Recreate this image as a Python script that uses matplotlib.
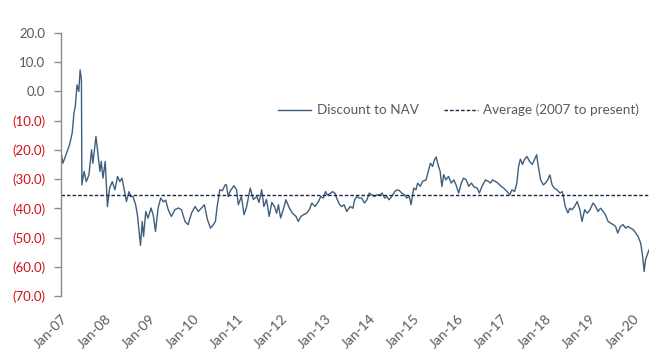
import matplotlib
matplotlib.use("Agg")
import matplotlib.pyplot as plt
from matplotlib.ticker import FixedLocator, FuncFormatter

# decimal years and discount to NAV (%)
years = [
    2007.00, 2007.05, 2007.13, 2007.20, 2007.26, 2007.30, 2007.33, 2007.37, 2007.41, 2007.44,
    2007.47, 2007.48, 2007.53, 2007.58, 2007.64, 2007.70, 2007.73, 2007.80, 2007.83, 2007.89,
    2007.92, 2007.96, 2008.01, 2008.06, 2008.11, 2008.17, 2008.23, 2008.29, 2008.34, 2008.39,
    2008.45, 2008.49, 2008.55, 2008.59, 2008.64, 2008.70, 2008.74, 2008.77, 2008.81, 2008.85,
    2008.88, 2008.93, 2008.98, 2009.05, 2009.10, 2009.15, 2009.21, 2009.27, 2009.33, 2009.38,
    2009.44, 2009.51, 2009.59, 2009.67, 2009.74, 2009.82, 2009.89, 2009.97, 2010.05, 2010.12,
    2010.19, 2010.26, 2010.33, 2010.40, 2010.46, 2010.51, 2010.55, 2010.61, 2010.67, 2010.73,
    2010.76, 2010.80, 2010.85, 2010.93, 2010.99, 2011.03, 2011.10, 2011.16, 2011.22, 2011.30,
    2011.37, 2011.45, 2011.50, 2011.56, 2011.61, 2011.67, 2011.73, 2011.79, 2011.85, 2011.90,
    2011.94, 2011.99, 2012.05, 2012.11, 2012.19, 2012.26, 2012.34, 2012.39, 2012.45, 2012.51,
    2012.58, 2012.64, 2012.70, 2012.77, 2012.85, 2012.90, 2012.96, 2013.01, 2013.05, 2013.11,
    2013.17, 2013.23, 2013.26, 2013.33, 2013.38, 2013.43, 2013.49, 2013.57, 2013.63, 2013.67,
    2013.72, 2013.77, 2013.83, 2013.89, 2013.95, 2014.00, 2014.06, 2014.12, 2014.18, 2014.25,
    2014.29, 2014.35, 2014.40, 2014.45, 2014.51, 2014.58, 2014.63, 2014.68, 2014.74, 2014.80,
    2014.85, 2014.91, 2014.95, 2015.01, 2015.06, 2015.10, 2015.16, 2015.21, 2015.29, 2015.33,
    2015.39, 2015.44, 2015.48, 2015.52, 2015.56, 2015.61, 2015.65, 2015.69, 2015.74, 2015.80,
    2015.86, 2015.92, 2015.97, 2016.03, 2016.09, 2016.14, 2016.20, 2016.26, 2016.32, 2016.38,
    2016.45, 2016.50, 2016.56, 2016.64, 2016.70, 2016.75, 2016.80, 2016.86, 2016.92, 2016.98,
    2017.05, 2017.13, 2017.19, 2017.24, 2017.30, 2017.35, 2017.39, 2017.43, 2017.48, 2017.52,
    2017.58, 2017.64, 2017.70, 2017.75, 2017.80, 2017.83, 2017.89, 2017.95, 2018.00, 2018.05,
    2018.10, 2018.15, 2018.20, 2018.26, 2018.33, 2018.38, 2018.42, 2018.45, 2018.51, 2018.55,
    2018.60, 2018.66, 2018.72, 2018.78, 2018.83, 2018.89, 2018.95, 2019.01, 2019.08, 2019.14,
    2019.19, 2019.25, 2019.31, 2019.36, 2019.42, 2019.48, 2019.54, 2019.59, 2019.64, 2019.70,
    2019.76, 2019.82, 2019.87, 2019.93, 2019.99, 2020.05, 2020.10, 2020.16, 2020.20, 2020.24,
    2020.27, 2020.31, 2020.35,
]
discount = [
    -20.0, -24.6, -21.2, -18.3, -14.3, -7.5, -5.3, 2.2, -0.1, 7.3,
    3.9, -32.0, -27.4, -30.9, -28.6, -20.0, -24.6, -15.5, -19.5, -27.4,
    -24.0, -29.7, -24.0, -39.4, -33.1, -30.9, -33.7, -29.1, -30.9, -29.7,
    -34.3, -37.7, -34.3, -36.0, -36.0, -38.8, -42.2, -46.8, -52.7, -44.5,
    -49.6, -41.1, -43.4, -39.9, -42.4, -47.9, -39.9, -36.5, -37.8, -37.2,
    -40.5, -42.8, -40.5, -39.9, -40.5, -44.5, -45.6, -41.6, -39.4, -41.1,
    -40.0, -38.8, -43.9, -46.8, -45.7, -44.5, -39.4, -33.7, -34.0, -32.0,
    -32.0, -36.0, -34.0, -32.3, -33.7, -38.8, -36.0, -42.2, -39.4, -33.1,
    -37.0, -36.0, -38.0, -33.7, -39.4, -37.0, -42.8, -38.0, -39.4, -41.7,
    -38.8, -43.3, -40.5, -37.1, -40.0, -41.7, -42.8, -44.5, -42.8, -42.2,
    -41.7, -40.5, -38.2, -39.4, -37.7, -36.0, -36.5, -34.3, -35.5, -35.0,
    -34.3, -35.0, -36.5, -38.8, -39.4, -38.8, -41.1, -39.4, -40.0, -37.1,
    -36.0, -36.5, -36.5, -38.2, -37.1, -34.8, -35.4, -36.0, -35.4, -35.4,
    -34.8, -36.5, -36.0, -37.1, -36.0, -34.3, -33.7, -33.9, -34.8, -35.4,
    -36.5, -36.0, -38.8, -33.1, -33.7, -31.4, -32.5, -30.8, -30.3, -28.0,
    -24.6, -25.7, -23.4, -22.5, -25.0, -27.4, -32.6, -28.5, -30.3, -29.1,
    -31.4, -30.3, -32.0, -34.8, -31.4, -29.7, -30.3, -32.5, -31.4, -32.7,
    -33.1, -34.8, -32.5, -30.3, -30.8, -31.4, -30.3, -30.8, -31.4, -32.3,
    -33.1, -34.3, -35.4, -33.7, -34.3, -31.4, -25.7, -23.2, -25.0, -23.4,
    -22.3, -24.0, -25.0, -23.4, -21.7, -25.0, -30.3, -32.0, -31.4, -30.3,
    -28.6, -32.0, -33.1, -33.7, -34.8, -34.3, -37.1, -39.4, -41.6, -40.0,
    -40.5, -39.4, -37.7, -40.5, -44.5, -40.5, -41.7, -40.5, -38.2, -39.4,
    -41.1, -40.0, -41.1, -42.2, -44.5, -45.1, -45.6, -46.2, -48.5, -46.2,
    -45.6, -46.8, -46.2, -46.8, -47.3, -48.5, -49.6, -51.9, -55.9, -61.6,
    -57.6, -55.9, -54.2,
]
average = -35.6
tick_years = list(range(2007, 2021))
tick_labels = ["Jan-%02d" % (y % 100) for y in tick_years]
y_ticks = [20, 10, 0, -10, -20, -30, -40, -50, -60, -70]

plt.rcParams['font.family'] = ['Lato', 'DejaVu Sans']

fig = plt.figure(figsize=(6.68, 3.56), dpi=100)
ax = fig.add_axes([0.0909, 0.1685, 0.8807, 0.7395])

line_col = '#3f5f7f'
grey = '#595959'
red = '#d0101a'

ax.plot(years, discount, color=line_col, lw=1.0, label='Discount to NAV')
ax.plot([years[0], years[-1]], [average, average], color='#1a2545', lw=1.0,
        linestyle=(0, (2.5, 1.5)), label='Average (2007 to present)')

ax.set_xlim(years[0], years[-1])
ax.set_ylim(-70, 20)

for s in ['top', 'right', 'bottom']:
    ax.spines[s].set_visible(False)
ax.spines['left'].set_color('#8c8c8c')
ax.spines['left'].set_linewidth(1.0)

ax.yaxis.set_major_locator(FixedLocator(y_ticks))
ax.yaxis.set_major_formatter(FuncFormatter(
    lambda v, p: "%.1f" % v if v >= 0 else "(%.1f)" % abs(v)))
ax.tick_params(axis='y', length=5, width=1, color='#8c8c8c', labelsize=9.5, pad=6)
for lab, v in zip(ax.get_yticklabels(), y_ticks):
    lab.set_color(grey if v >= 0 else red)

ax.set_xticks(tick_years)
ax.set_xticklabels(tick_labels, rotation=45, ha='right', rotation_mode='anchor',
                   color=grey, fontsize=10)
ax.tick_params(axis='x', length=0, pad=12)

fig.legend(loc='center', bbox_to_anchor=(0.686, 0.691), ncol=2, frameon=False,
           fontsize=9.7, labelcolor=grey, handlelength=2.5, columnspacing=1.9,
           handletextpad=0.4)

fig.savefig('out.png', dpi=100)
